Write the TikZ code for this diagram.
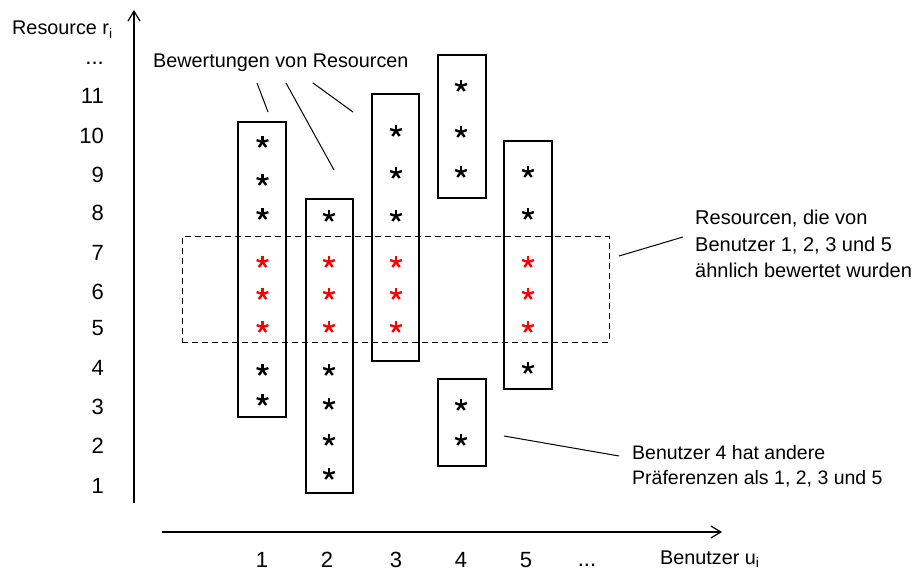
\documentclass[tikz,border=0pt]{standalone}
\usepackage{fontspec}
\setmainfont{Liberation Sans}
\usetikzlibrary{arrows.meta}

\begin{document}
\begin{tikzpicture}[x=1pt,y=-1pt,
  lbl/.style={inner sep=0pt, font=\fontsize{19.8}{25}\selectfont},
  num/.style={inner sep=0pt, font=\fontsize{22}{26}\selectfont},
  box/.style={draw, line width=1.1pt, inner sep=0pt},
  simgroup/.style={draw, dashed, dash pattern=on 6pt off 4pt, line width=1pt, inner sep=0pt},
  leader/.style={draw, line width=1pt},
  axis/.style={line width=1.2pt, -{Straight Barb[length=10pt,width=12pt,line width=1.2pt]}},
  % five-armed asterisk (y axis points down, so angles are mirrored)
  ast/.style={minimum size=14pt, inner sep=0pt,
    path picture={\foreach \a in {270,342,198,126,54}
      \draw[#1, line width=2.4pt] (path picture bounding box.center) -- ++(\a:6.2);}}
]
\useasboundingbox (0,0) rectangle (916,572);

% axes
\coordinate (yfoot) at (134,503);
\coordinate (yhead) at (134,10);
\coordinate (xfoot) at (162,532);
\coordinate (xhead) at (722,532);
\draw[axis] (yfoot) -- (yhead);
\draw[axis] (xfoot) -- (xhead);

\node[lbl, anchor=base west] (ylabel) at (12,35) {Resource r\textsubscript{i}};
\node[lbl, anchor=base west] (xlabel) at (660,564) {Benutzer u\textsubscript{i}};

% resource numbers
\node[num, anchor=east] (rdots) at (104,63) {...};
\foreach \n/\y in {11/96,10/136,9/175,8/213,7/253,6/292,5/328,4/368,3/407,2/446,1/486}
  \node[num, anchor=east] (r\n) at (104,\y) {\n};

% user numbers
\foreach \n/\x in {1/262,2/327,3/396,4/461,5/526}
  \node[num] (u\n) at (\x,560) {\n};
\node[num] (udots) at (587,565) {...};

% rating columns
\node[box, minimum width=48pt, minimum height=295pt] (b1) at (262,269.5) {};
\node[box, minimum width=47pt, minimum height=294pt] (b2) at (329.5,346) {};
\node[box, minimum width=47pt, minimum height=267pt] (b3) at (395.5,227.5) {};
\node[box, minimum width=48pt, minimum height=143pt] (b4a) at (462,126.5) {};
\node[box, minimum width=48pt, minimum height=87pt] (b4b) at (462,422.5) {};
\node[box, minimum width=48pt, minimum height=248pt] (b5) at (528,265) {};

% similarly rated resources
\node[simgroup, minimum width=427pt, minimum height=105pt] (sim) at (395.5,289.5) {};

% ratings
\foreach \y [count=\k] in {142,180,214,370,400} \node[ast=black] (s1k\k) at (262.5,\y) {};
\foreach \y [count=\k] in {216,370,404,440,474} \node[ast=black] (s2k\k) at (329,\y) {};
\foreach \y [count=\k] in {131,173,216} \node[ast=black] (s3k\k) at (396,\y) {};
\foreach \y [count=\k] in {86,132,172,405,440} \node[ast=black] (s4k\k) at (461,\y) {};
\foreach \y [count=\k] in {172,214,368} \node[ast=black] (s5k\k) at (528,\y) {};
\foreach \x [count=\c] in {262.5,329,396,528}
  \foreach \y [count=\k] in {262,294,327}
    \node[ast=red] (r\c k\k) at (\x,\y) {};

% annotations
\node[lbl, anchor=base west] (bew) at (153,68) {Bewertungen von Resourcen};
\node[lbl, anchor=north west, align=left, font=\fontsize{20}{26.5}\selectfont] (simtext) at (695,210)
  {Resourcen, die von\\Benutzer 1, 2, 3 und 5\\ähnlich bewertet wurden};
\node[lbl, anchor=north west, align=left, font=\fontsize{19.5}{24.5}\selectfont] (praef) at (632,445.5)
  {Benutzer 4 hat andere\\Präferenzen als 1, 2, 3 und 5};

\coordinate (l1a) at (257,83);  \coordinate (l1b) at (268,112);
\coordinate (l2a) at (286,83);  \coordinate (l2b) at (334,170);
\coordinate (l3a) at (313,83);  \coordinate (l3b) at (353,112);
\coordinate (l4a) at (619,256); \coordinate (l4b) at (683,237);
\coordinate (l5a) at (504,436); \coordinate (l5b) at (619,456);
\draw[leader] (l1a) -- (l1b);
\draw[leader] (l2a) -- (l2b);
\draw[leader] (l3a) -- (l3b);
\draw[leader] (l4a) -- (l4b);
\draw[leader] (l5a) -- (l5b);
\end{tikzpicture}
\end{document}
